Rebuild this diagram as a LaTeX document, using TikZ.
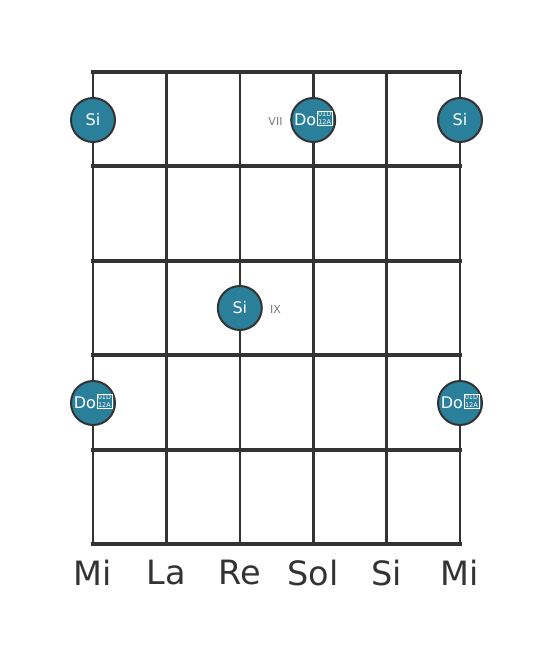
\documentclass[tikz,border=0pt]{standalone}
\usepackage{fontspec}
\setmainfont{DejaVu Sans}
\definecolor{gridc}{RGB}{51,51,51}
\definecolor{notec}{RGB}{42,127,155}
\definecolor{labc}{RGB}{120,120,120}
\newcommand{\hexglyph}{\hspace{0.8pt}\smash{\raisebox{1pt}{\fontsize{6.5}{5.2}\selectfont\setlength\fboxsep{0.6pt}\setlength\fboxrule{0.5pt}\fbox{\shortstack{01D\\12A}}}}}
\tikzset{
  fret/.style={draw=gridc, line width=4pt},
  strg/.style={draw=gridc, line width=2.6pt},
  note/.style={circle, draw=gridc, line width=2pt, fill=notec, minimum size=44pt, inner sep=0pt, text=white, font=\fontsize{16}{16}\selectfont},
  poslabel/.style={text=labc, font=\fontsize{11}{11}\selectfont},
  sname/.style={text=gridc, font=\fontsize{33.5}{33.5}\selectfont}
}
\begin{document}
\begin{tikzpicture}[x=1pt,y=-1pt]
\useasboundingbox (0,0) rectangle (553,656);
% strings
\foreach \i/\x in {1/93,2/166.4,3/239.8,4/313.2,5/386.6,6/460}{
  \coordinate (st\i) at (\x,72);
  \coordinate (sb\i) at (\x,544);
  \draw[strg] (st\i) -- (sb\i);
}
% frets
\foreach \j/\y in {0/72,1/166.4,2/260.8,3/355.2,4/449.6,5/544}{
  \coordinate (fl\j) at (93,\y);
  \coordinate (fr\j) at (460,\y);
  \draw[fret, line cap=rect] (fl\j) -- (fr\j);
}
% notes
\node[note] (n1) at (93,120) {Si};
\node[note] (n2) at (313.2,120) {Do\hexglyph};
\node[note] (n3) at (460,120) {Si};
\node[note] (n4) at (239.8,308) {Si};
\node[note] (n5) at (93,403) {Do\hexglyph};
\node[note] (n6) at (460,403) {Do\hexglyph};
\node[poslabel] (p7) at (275.5,121) {VII};
\node[poslabel] (p9) at (275.5,309) {IX};
% string names
\node[sname] (m1) at (93,573) {Mi};
\node[sname] (m2) at (166.4,573) {La};
\node[sname] (m3) at (239.8,573) {Re};
\node[sname] (m4) at (313.2,573) {Sol};
\node[sname] (m5) at (386.6,573) {Si};
\node[sname] (m6) at (460,573) {Mi};
\end{tikzpicture}
\end{document}
